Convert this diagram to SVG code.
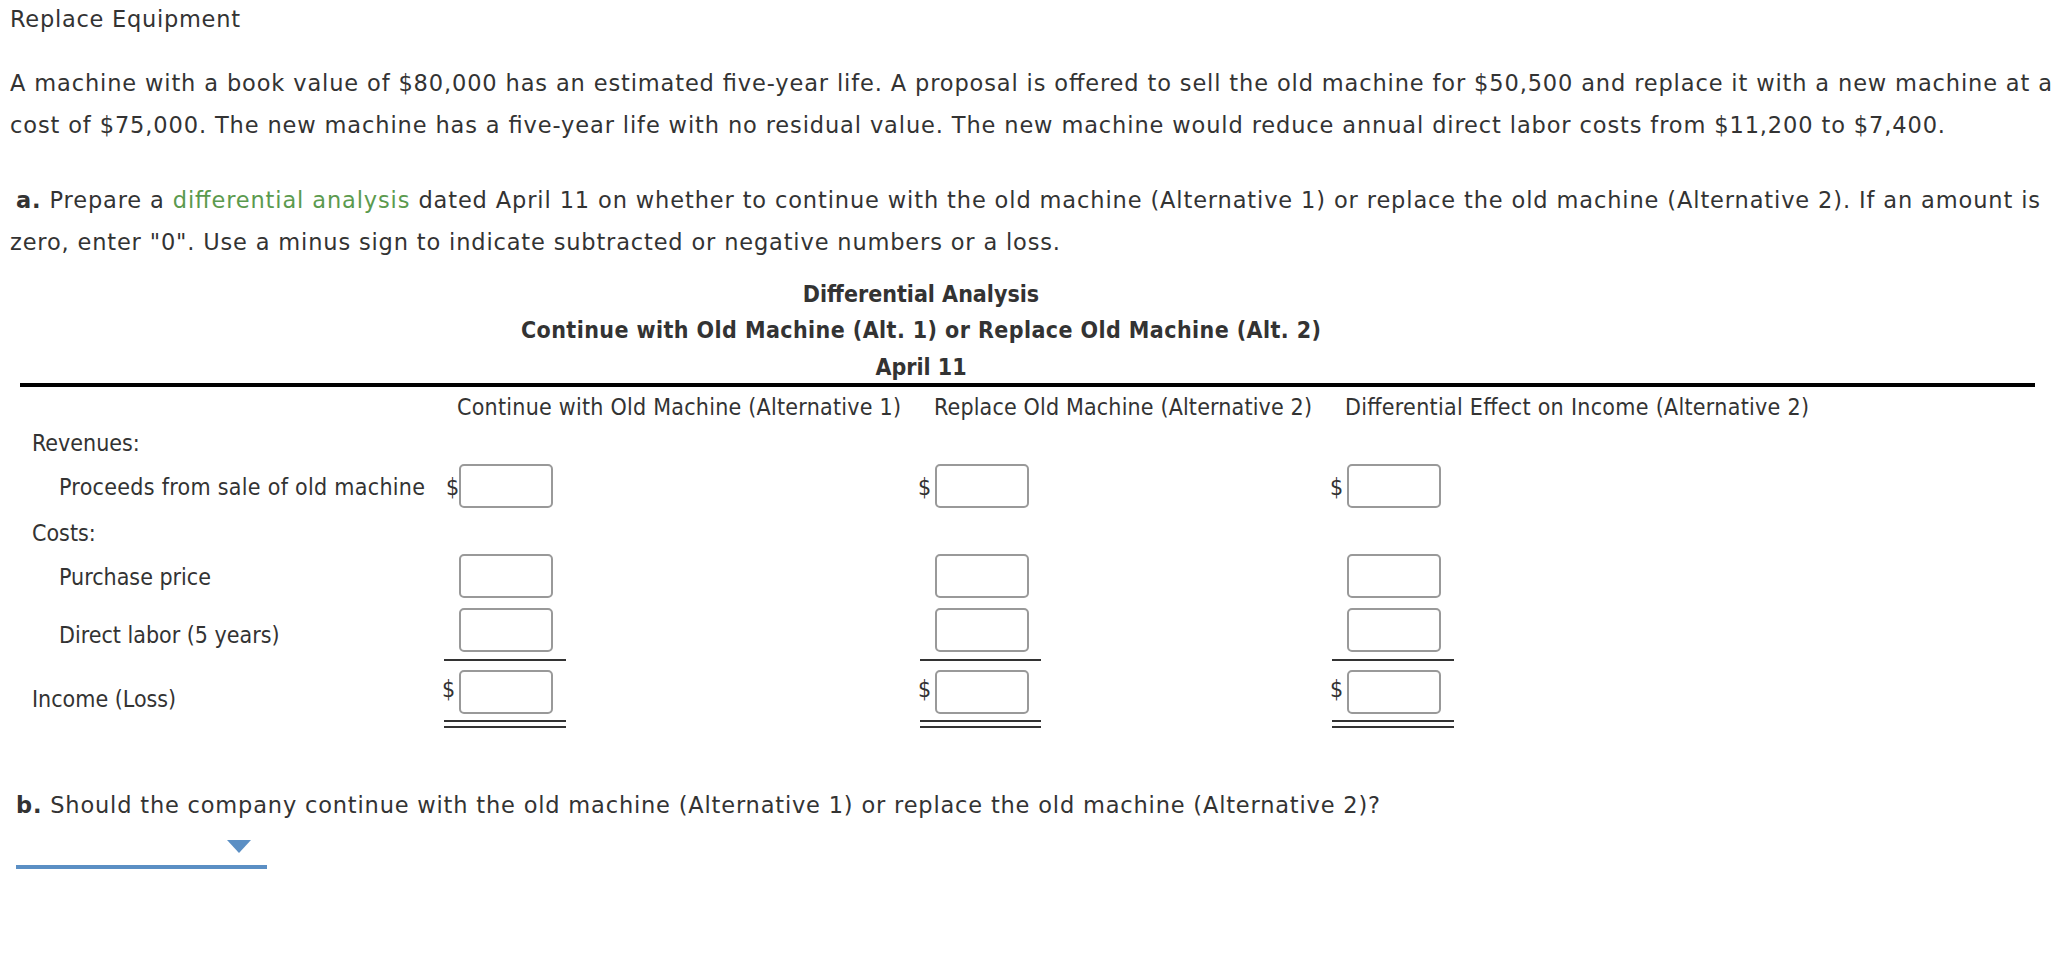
<svg xmlns="http://www.w3.org/2000/svg" width="2072" height="962" viewBox="0 0 2072 962">
<style>
.p{font-family:"DejaVu Sans",Verdana,sans-serif;font-size:22.5px;fill:#333}
.t{font-family:"DejaVu Sans Condensed","Liberation Sans",sans-serif;font-size:23px;fill:#333}
.b{font-weight:bold}
.box{fill:#fff;stroke:#999;stroke-width:2}
.ln{stroke:#333;stroke-width:2}
</style>
<rect width="2072" height="962" fill="#fff"/>
<text class="p" x="10" y="27" textLength="230">Replace Equipment</text>
<text class="p" x="10" y="91" textLength="2042">A machine with a book value of $80,000 has an estimated five-year life. A proposal is offered to sell the old machine for $50,500 and replace it with a new machine at a</text>
<text class="p" x="10" y="133" textLength="1935">cost of $75,000. The new machine has a five-year life with no residual value. The new machine would reduce annual direct labor costs from $11,200 to $7,400.</text>
<text class="p" x="16" y="208" textLength="2024"><tspan class="b">a.</tspan> Prepare a <tspan fill="#5b9a4e">differential analysis</tspan> dated April 11 on whether to continue with the old machine (Alternative 1) or replace the old machine (Alternative 2). If an amount is</text>
<text class="p" x="10" y="250" textLength="1050">zero, enter "0". Use a minus sign to indicate subtracted or negative numbers or a loss.</text>
<g id="title">
<text class="t b" x="921" y="302" text-anchor="middle">Differential Analysis</text>
<text class="t b" x="921" y="338" text-anchor="middle" textLength="800">Continue with Old Machine (Alt. 1) or Replace Old Machine (Alt. 2)</text>
<text class="t b" x="921" y="375" text-anchor="middle">April 11</text>
</g>
<rect x="20" y="383" width="2015" height="4" fill="#000"/>
<g id="headers">
<text class="t" x="457" y="415" textLength="444">Continue with Old Machine (Alternative 1)</text>
<text class="t" x="934" y="415" textLength="378">Replace Old Machine (Alternative 2)</text>
<text class="t" x="1345" y="415" textLength="464">Differential Effect on Income (Alternative 2)</text>
</g>
<g id="labels">
<text class="t" x="32" y="451">Revenues:</text>
<text class="t" x="59" y="495" textLength="366">Proceeds from sale of old machine</text>
<text class="t" x="32" y="541">Costs:</text>
<text class="t" x="59" y="585">Purchase price</text>
<text class="t" x="59" y="643">Direct labor (5 years)</text>
<text class="t" x="32" y="707">Income (Loss)</text>
</g>
<g id="inputs">
<text class="t" x="446" y="495">$</text><rect class="box" x="460" y="465" width="92" height="42" rx="4"/>
<text class="t" x="918" y="495">$</text><rect class="box" x="936" y="465" width="92" height="42" rx="4"/>
<text class="t" x="1330" y="495">$</text><rect class="box" x="1348" y="465" width="92" height="42" rx="4"/>
<rect class="box" x="460" y="555" width="92" height="42" rx="4"/>
<rect class="box" x="936" y="555" width="92" height="42" rx="4"/>
<rect class="box" x="1348" y="555" width="92" height="42" rx="4"/>
<rect class="box" x="460" y="609" width="92" height="42" rx="4"/>
<rect class="box" x="936" y="609" width="92" height="42" rx="4"/>
<rect class="box" x="1348" y="609" width="92" height="42" rx="4"/>
<text class="t" x="442" y="697">$</text><rect class="box" x="460" y="671" width="92" height="42" rx="4"/>
<text class="t" x="918" y="697">$</text><rect class="box" x="936" y="671" width="92" height="42" rx="4"/>
<text class="t" x="1330" y="697">$</text><rect class="box" x="1348" y="671" width="92" height="42" rx="4"/>
</g>
<g id="rules">
<line class="ln" x1="444" y1="660" x2="566" y2="660"/><line class="ln" x1="920" y1="660" x2="1041" y2="660"/><line class="ln" x1="1332" y1="660" x2="1454" y2="660"/>
<line class="ln" x1="444" y1="721" x2="566" y2="721"/><line class="ln" x1="920" y1="721" x2="1041" y2="721"/><line class="ln" x1="1332" y1="721" x2="1454" y2="721"/>
<line class="ln" x1="444" y1="727" x2="566" y2="727"/><line class="ln" x1="920" y1="727" x2="1041" y2="727"/><line class="ln" x1="1332" y1="727" x2="1454" y2="727"/>
</g>
<text class="p" x="16" y="813" textLength="1364"><tspan class="b">b.</tspan> Should the company continue with the old machine (Alternative 1) or replace the old machine (Alternative 2)?</text>
<g id="dropdown">
<rect x="16" y="865" width="251" height="4" fill="#5b8fc4"/>
<polygon points="227,840 251,840 239,853" fill="#5b8fc4"/>
</g>
</svg>
